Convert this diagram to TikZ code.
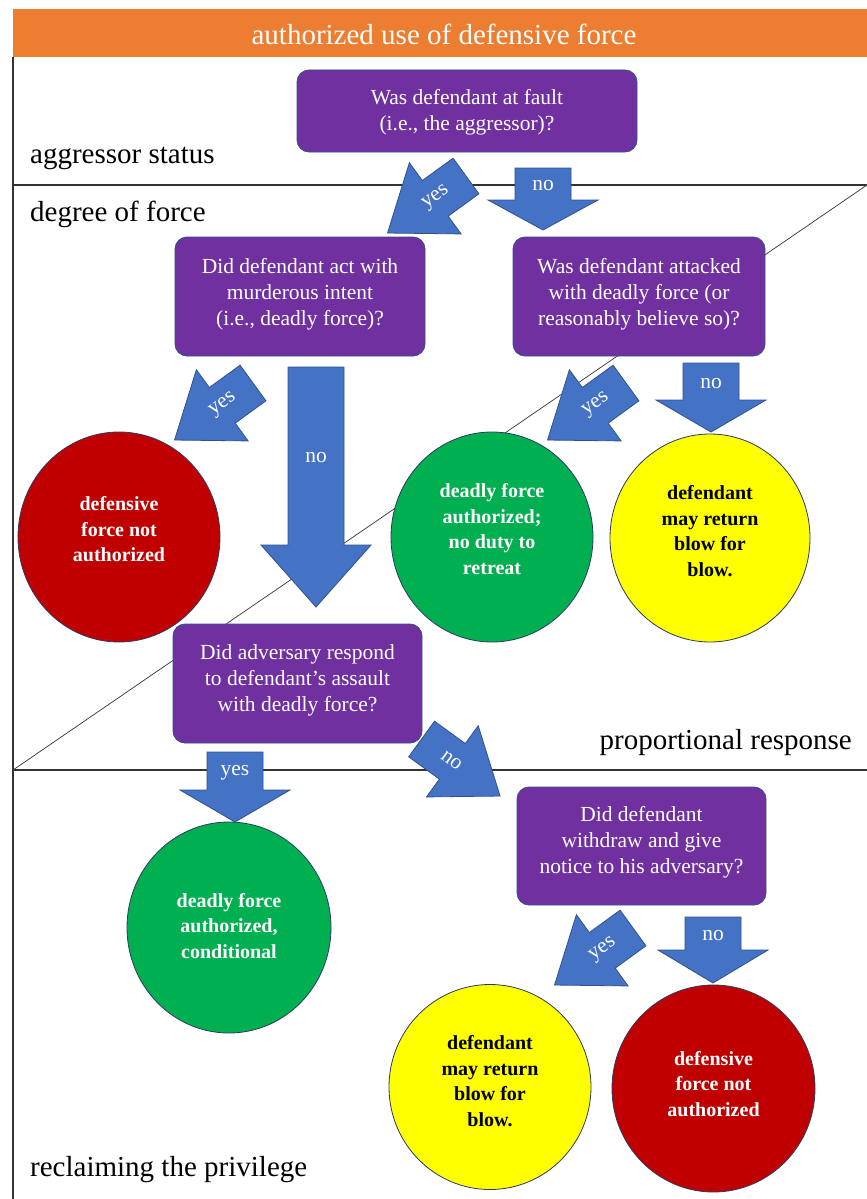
\documentclass[tikz,border=0pt]{standalone}
\usepackage{fontspec}
\setmainfont{Liberation Serif}
\usetikzlibrary{shapes.geometric}
\definecolor{hdr}{HTML}{ED7D31}
\definecolor{purp}{HTML}{7030A0}
\definecolor{ablue}{HTML}{4472C4}
\definecolor{aline}{HTML}{2F528F}
\definecolor{cred}{HTML}{C00000}
\definecolor{cgreen}{HTML}{00B050}
\definecolor{cyell}{HTML}{FFFF00}
\definecolor{frm}{HTML}{333333}
\definecolor{cline}{HTML}{2B3A63}
\newcommand\upby[2]{\raisebox{#1}[\height][\depth]{\begin{tabular}{@{}c@{}}#2\end{tabular}}}
\tikzset{
  arrowshape/.style={fill=ablue, draw=aline, line width=0.8pt, line join=miter},
  arrowtext/.style={text=white, font=\fontsize{21.5}{24}\selectfont, inner sep=0pt},
  pics/darrow/.style args={#1/#2}{code={
    \path[arrowshape] (0,22) -- (38,22) -- (38,44) -- (97,0) -- (38,-44) -- (38,-22) -- (0,-22) -- cycle;
    \node[arrowtext, transform shape, rotate=#2] (-lbl) at (37,0) {#1};
  }},
  pics/varrow/.style args={#1/#2/#3}{code={
    \path[arrowshape] (-28,0) -- (28,0) -- (28,#1) -- (55,#1) -- (0,{#1+#2}) -- (-55,#1) -- (-28,#1) -- cycle;
    \node[arrowtext] (-lbl) at (0,{#1/2+2}) {#3};
  }},
}
\begin{document}
\begin{tikzpicture}[x=1pt,y=-1pt,
  qbox/.style={rectangle, rounded corners=12pt, fill=purp, draw=aline, line width=0.8pt,
    text=white, font=\fontsize{21.5}{26}\selectfont, inner sep=0pt},
  disc/.style={ellipse, draw=cline, line width=0.8pt, inner sep=0pt,
    font=\bfseries\fontsize{20}{25.5}\selectfont},
  sect/.style={text=black, font=\fontsize{29}{34}\selectfont, inner sep=0pt},
  frameline/.style={draw=frm, line width=1.3pt},
]
\useasboundingbox (0,0) rectangle (867,1199);
\fill[white] (0,0) rectangle (867,1199);

% header
\node[fill=hdr, minimum width=854pt, minimum height=48pt, anchor=north west, inner sep=0pt] (hdrbar) at (13,9) {};
\node[anchor=base, text=white, font=\fontsize{29}{34}\selectfont, inner sep=0pt] (hdrtxt) at (444,45) {authorized use of defensive force};

% frame
\coordinate (ftop) at (13,57);
\coordinate (fbot) at (13,1199);
\coordinate (h1l) at (13,185);
\coordinate (h1r) at (867,185);
\coordinate (h2l) at (13,770);
\coordinate (h2r) at (867,770);
\draw[frameline] (ftop) -- (fbot);
\draw[frameline] (h1l) -- (h1r);
\draw[frameline] (h2l) -- (h2r);
\draw[draw=frm, line width=0.7pt] (h2l) -- (h1r);

% section labels
\node[sect, anchor=base west] (s1) at (30,163) {aggressor status};
\node[sect, anchor=base west] (s2) at (30,221) {degree of force};
\node[sect, anchor=base east] (s3) at (852,749) {proportional response};
\node[sect, anchor=base west] (s4) at (30,1176) {reclaiming the privilege};

% question boxes
\node[qbox, minimum width=340pt, minimum height=82pt] (q1) at (467,111) {\upby{-1.5pt}{Was defendant at fault\\(i.e., the aggressor)?}};
\node[qbox, minimum width=250pt, minimum height=119pt] (q2) at (300,296.5) {\upby{2pt}{Did defendant act with\\murderous intent\\(i.e., deadly force)?}};
\node[qbox, minimum width=252pt, minimum height=119pt] (q3) at (639,296.5) {\upby{2pt}{Was defendant attacked\\with deadly force (or\\reasonably believe so)?}};
\node[qbox, minimum width=249pt, minimum height=119pt] (q4) at (297.5,683.5) {\upby{3pt}{Did adversary respond\\to defendant’s assault\\with deadly force?}};
\node[qbox, minimum width=249pt, minimum height=118pt] (q5) at (641.5,846) {\upby{3.5pt}{Did defendant\\withdraw and give\\notice to his adversary?}};

% outcome discs
\node[disc, fill=cred, text=white, minimum width=202pt, minimum height=210pt] (r1) at (119,537) {\upby{6pt}{defensive\\force not\\authorized}};
\node[disc, fill=cgreen, text=white, minimum width=202pt, minimum height=210pt] (g1) at (492,537) {\upby{6pt}{deadly force\\authorized;\\no duty to\\retreat}};
\node[disc, fill=cyell, text=black, minimum width=200pt, minimum height=208pt] (y1) at (710,538) {\upby{5pt}{defendant\\may return\\blow for\\blow.}};
\node[disc, fill=cgreen, text=white, minimum width=204pt, minimum height=211pt] (g2) at (229,927.5) {\upby{0pt}{deadly force\\authorized,\\conditional}};
\node[disc, fill=cyell, text=black, minimum width=202pt, minimum height=205pt] (y2) at (490,1087) {\upby{4pt}{defendant\\may return\\blow for\\blow.}};
\node[disc, fill=cred, text=white, minimum width=203pt, minimum height=207pt] (r2) at (713.5,1088.5) {\upby{3pt}{defensive\\force not\\authorized}};

% block arrows
\pic[rotate=216] (a1y) at (466,176) {darrow={yes/180}};
\pic (a1n) at (543,168) {varrow={32/30/no}};
\pic[rotate=216] (a2y) at (253,383) {darrow={yes/180}};
\pic (a2n) at (316,367) {varrow={178/62/no}};
\pic[rotate=216] (a3y) at (626,383) {darrow={yes/180}};
\pic (a3n) at (711,363) {varrow={37/32/no}};
\pic (a4y) at (235,752) {varrow={38/32/yes}};
\pic[rotate=-36] (a4n) at (421.6,739) {darrow={no/0}};
\pic[rotate=216] (a5y) at (633,928) {darrow={yes/180}};
\pic (a5n) at (713,917) {varrow={33/33/no}};
\end{tikzpicture}
\end{document}
